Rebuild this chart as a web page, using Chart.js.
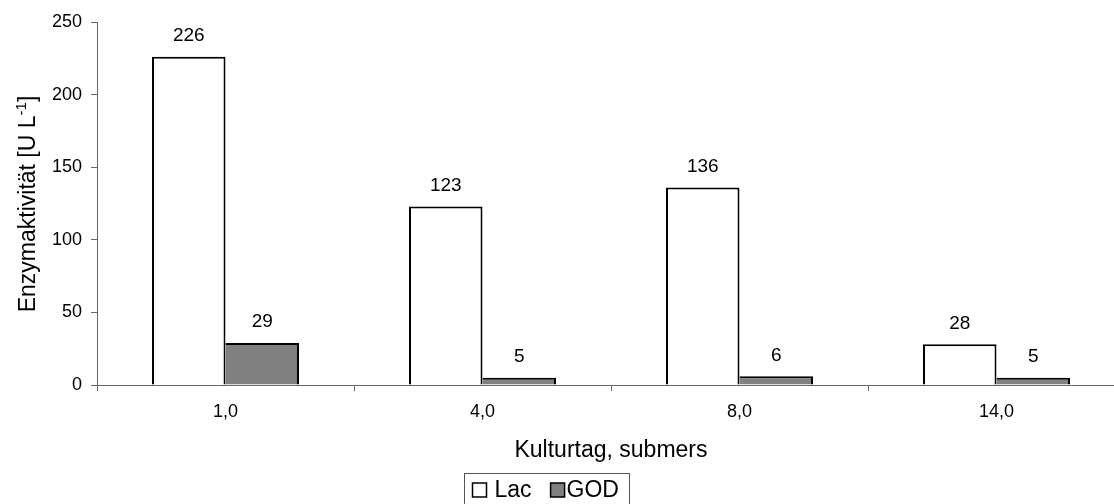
<!DOCTYPE html>
<html>
<head>
<meta charset="utf-8">
<script src="https://cdn.jsdelivr.net/npm/chart.js@4/dist/chart.umd.min.js"></script>
<style>
  html, body { margin: 0; padding: 0; background: #fff; overflow: hidden; }
  canvas { display: block; }
</style>
</head>
<body>
<canvas id="c" width="1126" height="504"></canvas>
<script>
// Enzyme activity per culture day (submerged culture)
const days = ['1,0', '4,0', '8,0', '14,0'];
const lacValues = [226, 123, 136, 28];
const godValues = [29, 5, 6, 5];
const seriesNames = ['Lac', 'GOD'];
const yTitleMain = 'Enzymaktivität [U L';
const yTitleSup = '-1';
const yTitleEnd = ']';
const xTitle = 'Kulturtag, submers';

const FONT = '"Liberation Sans", Arial, sans-serif';
Chart.defaults.font.family = FONT;
Chart.defaults.color = '#000';

// value labels above each bar
const valueLabels = {
  id: 'valueLabels',
  afterDatasetsDraw(chart) {
    const ctx = chart.ctx;
    ctx.save();
    ctx.font = '19px ' + FONT;
    ctx.fillStyle = '#000';
    ctx.textAlign = 'center';
    ctx.textBaseline = 'middle';
    chart.data.datasets.forEach((ds, i) => {
      chart.getDatasetMeta(i).data.forEach((bar, j) => {
        ctx.fillText(String(ds.data[j]), bar.x, bar.y - 21);
      });
    });
    ctx.restore();
  }
};

// rotated y-axis title with superscript exponent
const yTitle = {
  id: 'yTitle',
  afterDraw(chart) {
    const ctx = chart.ctx;
    ctx.save();
    const mainFont = '23px ' + FONT;
    const supFont = '15px ' + FONT;
    ctx.font = mainFont;
    const w1 = ctx.measureText(yTitleMain).width;
    const w3 = ctx.measureText(yTitleEnd).width;
    ctx.font = supFont;
    const w2 = ctx.measureText(yTitleSup).width;
    const total = w1 + w2 + w3;
    ctx.translate(27, 204);
    ctx.rotate(-Math.PI / 2);
    ctx.fillStyle = '#000';
    ctx.textBaseline = 'alphabetic';
    ctx.textAlign = 'left';
    const base = 8;
    let x = -total / 2;
    ctx.font = mainFont;
    ctx.fillText(yTitleMain, x, base);
    x += w1;
    ctx.font = supFont;
    ctx.fillText(yTitleSup, x, base - 9);
    x += w2;
    ctx.font = mainFont;
    ctx.fillText(yTitleEnd, x, base);
    ctx.restore();
  }
};

// boxed legend below the axis title
const boxLegend = {
  id: 'boxLegend',
  afterDraw(chart) {
    const ctx = chart.ctx;
    ctx.save();
    const left = 464.5, top = 473.5, right = 629.5, bottom = 510;
    ctx.strokeStyle = '#555';
    ctx.lineWidth = 1;
    ctx.strokeRect(left, top, right - left, bottom - top);
    ctx.font = '23px ' + FONT;
    ctx.textBaseline = 'middle';
    ctx.textAlign = 'left';
    const cy = 490;
    const sq = 14;
    let x = left + 8;
    chart.data.datasets.forEach((ds, i) => {
      ctx.fillStyle = ds.backgroundColor;
      ctx.fillRect(x, cy - sq / 2, sq, sq);
      ctx.strokeStyle = '#000';
      ctx.lineWidth = 1.5;
      ctx.strokeRect(x, cy - sq / 2, sq, sq);
      x += sq + (i === 0 ? 8 : 2);
      ctx.fillStyle = '#000';
      ctx.fillText(ds.label, x, cy + 1);
      x += ctx.measureText(ds.label).width + 19;
    });
    ctx.restore();
  }
};

new Chart(document.getElementById('c'), {
  type: 'bar',
  data: {
    labels: days,
    datasets: [
      {
        label: seriesNames[0],
        data: lacValues,
        backgroundColor: '#ffffff',
        borderColor: '#000000',
        borderWidth: { top: 2, left: 2, right: 2, bottom: 0 },
        borderSkipped: false
      },
      {
        label: seriesNames[1],
        data: godValues,
        backgroundColor: '#808080',
        borderColor: '#000000',
        borderWidth: { top: 2, left: 0, right: 2, bottom: 0 },
        borderSkipped: false
      }
    ]
  },
  options: {
    responsive: false,
    devicePixelRatio: 1,
    animation: false,
    layout: { padding: { left: 0, right: 1, top: 22, bottom: 40 } },
    datasets: {
      bar: { barPercentage: 1, categoryPercentage: 0.572 }
    },
    plugins: {
      legend: { display: false },
      tooltip: { enabled: false }
    },
    scales: {
      x: {
        grid: { drawOnChartArea: false, drawTicks: true, tickLength: 6, color: '#666', offset: true },
        border: { color: '#666', width: 1 },
        ticks: { font: { size: 18 }, padding: 10, color: '#000' },
        title: { display: true, text: xTitle, font: { size: 23 }, padding: 0, color: '#000' },
        afterFit(scale) { scale.height = 79; }
      },
      y: {
        min: 0,
        max: 250,
        grid: { drawOnChartArea: false, drawTicks: true, tickLength: 6, color: '#666' },
        border: { color: '#666', width: 1 },
        ticks: { stepSize: 50, font: { size: 18 }, padding: 9, color: '#000' },
        afterFit(scale) { scale.width = 97; }
      }
    }
  },
  plugins: [valueLabels, yTitle, boxLegend]
});
</script>
</body>
</html>
